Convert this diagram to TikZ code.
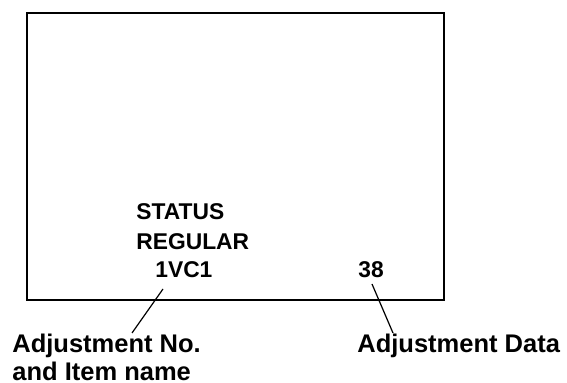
\documentclass[tikz,border=0pt]{standalone}
\usepackage{fontspec}
\setmainfont{Liberation Sans}
\usetikzlibrary{positioning}
\tikzset{
  screentext/.style={anchor=base west, inner sep=0pt, font=\fontsize{11.4}{13}\selectfont\bfseries},
  calloutlabel/.style={anchor=base west, inner sep=0pt, align=left, font=\fontsize{12.75}{14}\selectfont\bfseries},
  leader/.style={line width=0.6pt}
}
\begin{document}
\begin{tikzpicture}[x=0.5pt,y=-0.5pt]
			%%%%% START %%%%%
			\useasboundingbox (0,0) rectangle (567,383);
			\draw[line width=1pt] (27,13) rectangle (444,300);
			
			\node[screentext] (status) at (136,220) {STATUS};
			\node[screentext] (regular) at (136,250) {REGULAR};
			\node[screentext] (vcone) at (155,278) {1VC1};
			\node[screentext] (value) at (358,278) {38};
			
			% two-line label: base sits on the last line
			\node[calloutlabel] (adjno) at (12,381) {Adjustment No.\\[0pt]and Item name};
			\node[calloutlabel] (adjdata) at (357,353) {Adjustment Data};
			
			\coordinate (vcfoot) at (163,289);
			\coordinate (adjnotop) at (132,333);
			\coordinate (valuefoot) at (372,284);
			\coordinate (adjdatatop) at (393,333);
			\draw[leader] (vcfoot) -- (adjnotop);
			\draw[leader] (valuefoot) -- (adjdatatop);
			%%%%% END %%%%%
\end{tikzpicture}
\end{document}
